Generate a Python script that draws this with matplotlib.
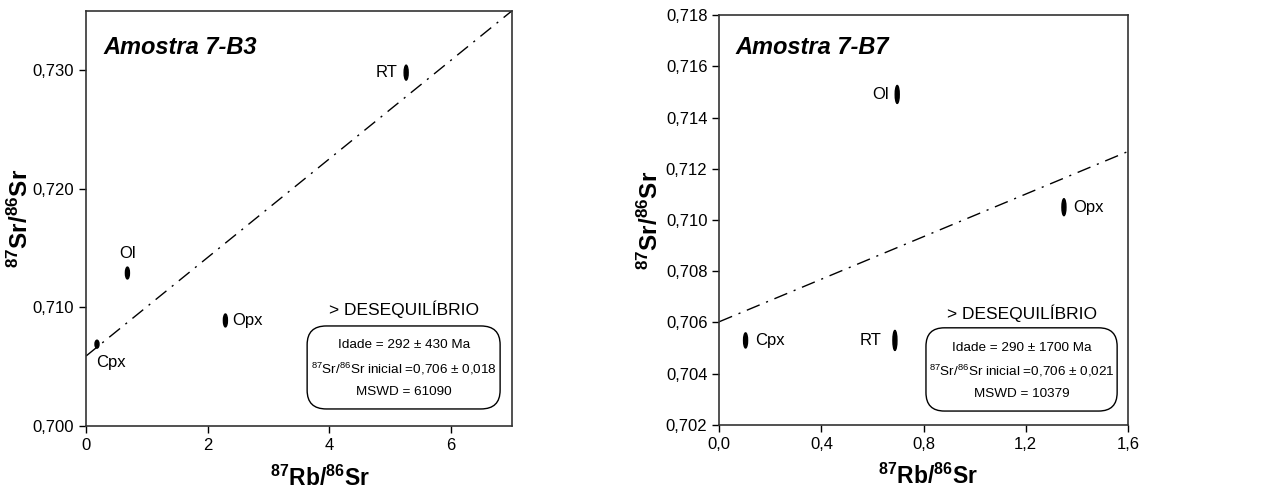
import matplotlib
matplotlib.use("Agg")
import matplotlib.pyplot as plt
from matplotlib.patches import Ellipse, FancyBboxPatch
import numpy as np

plt.rcParams['font.family'] = ['Liberation Sans', 'DejaVu Sans']
plt.rcParams['mathtext.fontset'] = 'custom'
plt.rcParams['mathtext.rm'] = 'Liberation Sans'
plt.rcParams['mathtext.bf'] = 'Liberation Sans:bold'
plt.rcParams['mathtext.default'] = 'regular'

# Amostra 7-B3
b3_labels = ['RT', 'Ol', 'Opx', 'Cpx']
b3_rb = [5.26, 0.68, 2.29, 0.18]
b3_sr = [0.7298, 0.7129, 0.7089, 0.7069]
b3_err = [0.00126, 0.00100, 0.00109, 0.00067]
b3_intercept = 0.7059
b3_slope = 0.00416
b3_info = ['Idade = 292 ± 430 Ma',
           r'$^{87}$Sr/$^{86}$Sr inicial =0,706 ± 0,018',
           'MSWD = 61090']

# Amostra 7-B7
b7_labels = ['Ol', 'Opx', 'Cpx', 'RT']
b7_rb = [0.697, 1.350, 0.103, 0.688]
b7_sr = [0.7149, 0.7105, 0.7053, 0.7053]
b7_err = [0.00070, 0.00066, 0.00059, 0.00078]
b7_intercept = 0.70603
b7_slope = 0.00415
b7_info = ['Idade = 290 ± 1700 Ma',
           r'$^{87}$Sr/$^{86}$Sr inicial =0,706 ± 0,021',
           'MSWD = 10379']

fig = plt.figure(figsize=(12.69, 4.97), dpi=100)
ax1 = fig.add_axes([0.0678, 0.1429, 0.3357, 0.835])
ax2 = fig.add_axes([0.5668, 0.1449, 0.3219, 0.8249])


def draw_panel(ax, title, labels, rb, sr, err, b, m, info, xlim, ylim,
               ex_width, offsets, box, title_y):
    ax.set_xlim(*xlim)
    ax.set_ylim(*ylim)
    xs = np.array(xlim)
    ax.plot(xs, b + m * xs, color='black', lw=1.0,
            dashes=(10, 5, 1.5, 5))
    for lab, x, y, e, off in zip(labels, rb, sr, err, offsets):
        ax.add_patch(Ellipse((x, y), ex_width, e, fc='black', ec='black'))
        ax.annotate(lab, (x, y), xytext=off[:2], textcoords='offset points',
                    ha=off[2], va='center', fontsize=12)
    ax.text(0.04, title_y, title, transform=ax.transAxes, fontsize=17,
            fontweight='bold', fontstyle='italic', ha='left', va='center')

    # rounded box with the isochron results
    x0, x1, y0, y1, lines_y, head_y = box
    ax.add_patch(FancyBboxPatch((x0, y0), x1 - x0, y1 - y0,
                                boxstyle='round,pad=0,rounding_size=0.045',
                                transform=ax.transAxes, fc='white',
                                ec='black', lw=1.0, zorder=3))
    xc = (x0 + x1) / 2
    ax.text(xc, head_y, '> DESEQUILÍBRIO', transform=ax.transAxes,
            fontsize=12.5, ha='center', va='center')
    for s, ty in zip(info, lines_y):
        ax.text(xc, ty, s, transform=ax.transAxes, fontsize=9.7,
                ha='center', va='center', zorder=4)

    ax.set_xlabel(r'$\mathbf{^{87}Rb/^{86}Sr}$', fontsize=16.5)
    ax.set_ylabel(r'$\mathbf{^{87}Sr/^{86}Sr}$', fontsize=17.5)
    ax.tick_params(direction='out', length=5, width=1, labelsize=12,
                   colors='black')
    for sp in ax.spines.values():
        sp.set_linewidth(1.2)
        sp.set_color('#333333')


draw_panel(ax1, 'Amostra 7-B3', b3_labels, b3_rb, b3_sr, b3_err,
           b3_intercept, b3_slope, b3_info, (0, 7), (0.700, 0.735), 0.066,
           [(-6, 0, 'right'), (0, 14, 'center'), (5, 0, 'left'), (10, -13.5, 'center')],
           (0.519, 0.972, 0.041, 0.241, (0.195, 0.137, 0.082), 0.282), 0.911)
ax1.set_xticks([0, 2, 4, 6])
ax1.set_xticklabels(['0', '2', '4', '6'])
ax1.set_yticks([0.700, 0.710, 0.720, 0.730])
ax1.set_yticklabels(['0,700', '0,710', '0,720', '0,730'])
ax1.xaxis.set_label_coords(0.55, -0.095)
ax1.yaxis.set_label_coords(-0.125, 0.5)

draw_panel(ax2, 'Amostra 7-B7', b7_labels, b7_rb, b7_sr, b7_err,
           b7_intercept, b7_slope, b7_info, (0, 1.6), (0.702, 0.718), 0.0157,
           [(-6, 0, 'right'), (7, 0, 'left'), (7, 0, 'left'), (-10, 0, 'right')],
           (0.506, 0.974, 0.034, 0.237, (0.188, 0.132, 0.076), 0.273), 0.92)
ax2.set_xticks([0.0, 0.4, 0.8, 1.2, 1.6])
ax2.set_xticklabels(['0,0', '0,4', '0,8', '1,2', '1,6'])
ax2.set_yticks(np.arange(0.702, 0.7181, 0.002))
ax2.set_yticklabels(['0,702', '0,704', '0,706', '0,708', '0,710',
                     '0,712', '0,714', '0,716', '0,718'])
ax2.xaxis.set_label_coords(0.51, -0.095)
ax2.yaxis.set_label_coords(-0.138, 0.5)

fig.savefig('out.png', dpi=100)
